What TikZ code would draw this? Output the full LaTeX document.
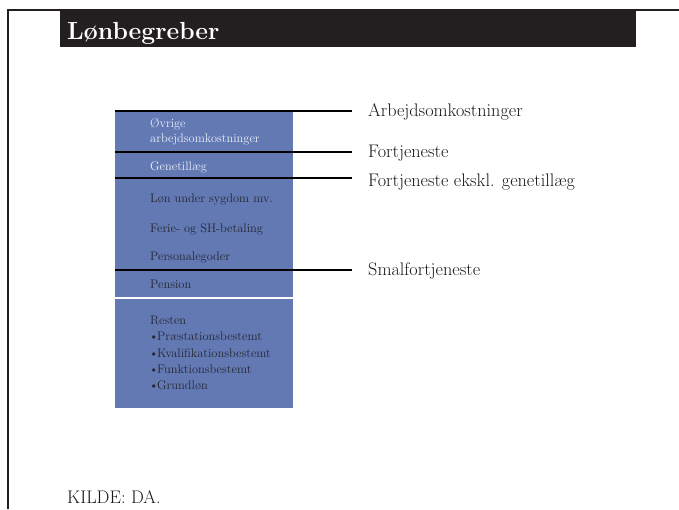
\documentclass[tikz,border=0pt]{standalone}
\usepackage{fontspec}
\definecolor{boxblue}{RGB}{98,121,180}
\definecolor{framedark}{RGB}{35,31,32}
\definecolor{darktxt}{RGB}{38,38,48}
\definecolor{lighttxt}{RGB}{236,239,246}
\newcommand{\blt}{\textbullet\kern-1.5pt}
\tikzset{
  framestroke/.style={draw=framedark, line width=1.5pt},
  rule/.style={draw=black, line width=2.6pt},
  inlight/.style={anchor=base west, inner sep=0pt, text=lighttxt, font=\fontsize{12.4}{14}\selectfont},
  indark/.style={anchor=base west, inner sep=0pt, text=darktxt, font=\fontsize{12.4}{14}\selectfont},
  rlabel/.style={anchor=base west, inner sep=0pt, text=black!90, font=\fontsize{18.2}{21}\selectfont},
}
\begin{document}
\begin{tikzpicture}[x=1pt,y=-1pt]
\useasboundingbox (0,0) rectangle (679,509);
% frame
\draw[framestroke] (8,509) -- (8,10) -- (679,10);
% title bar
\fill[framedark] (60,10) rectangle (636,47);
\node[anchor=base west, inner sep=0pt, text=white, font=\fontsize{24.7}{28}\bfseries\selectfont] (title) at (67,39) {Lønbegreber};
% blue box
\fill[boxblue] (115,111) rectangle (293,408);
\draw[white, line width=2pt] (115,297.5) -- (293,297.5);
% box texts
\node[inlight] (t1) at (150,127) {Øvrige};
\node[inlight] (t2) at (150,142.5) {arbejdsomkostninger};
\node[inlight] (t3) at (150,170) {Genetillæg};
\node[indark] (t4) at (150,202) {Løn under sygdom mv.};
\node[indark] (t5) at (150,232) {Ferie- og SH-betaling};
\node[indark] (t6) at (150,260) {Personalegoder};
\node[indark] (t7) at (150,288.5) {Pension};
\node[indark] (t8) at (150,324) {Resten};
\node[indark] (t9) at (149,340) {\blt Præstationsbestemt};
\node[indark] (t10) at (149,357) {\blt Kvalifikationsbestemt};
\node[indark] (t11) at (149,373) {\blt Funktionsbestemt};
\node[indark] (t12) at (149,389) {\blt Grundløn};
% right labels
\node[rlabel] (r1) at (368,116) {Arbejdsomkostninger};
\node[rlabel] (r2) at (368,157) {Fortjeneste};
\node[rlabel] (r3) at (368,186) {Fortjeneste ekskl. genetillæg};
\node[rlabel] (r4) at (368,275) {Smalfortjeneste};
% rule lines
\coordinate (a1) at (115,111); \coordinate (b1) at (352,111);
\coordinate (a2) at (115,152); \coordinate (b2) at (352,152);
\coordinate (a3) at (115,178); \coordinate (b3) at (352,178);
\coordinate (a4) at (115,270); \coordinate (b4) at (352,270);
\draw[rule] (a1) -- (b1);
\draw[rule] (a2) -- (b2);
\draw[rule] (a3) -- (b3);
\draw[rule] (a4) -- (b4);
% source
\node[anchor=base west, inner sep=0pt, text=black!90, font=\fontsize{18.2}{21}\selectfont] (src) at (67,503) {KILDE: DA.};
\end{tikzpicture}
\end{document}
